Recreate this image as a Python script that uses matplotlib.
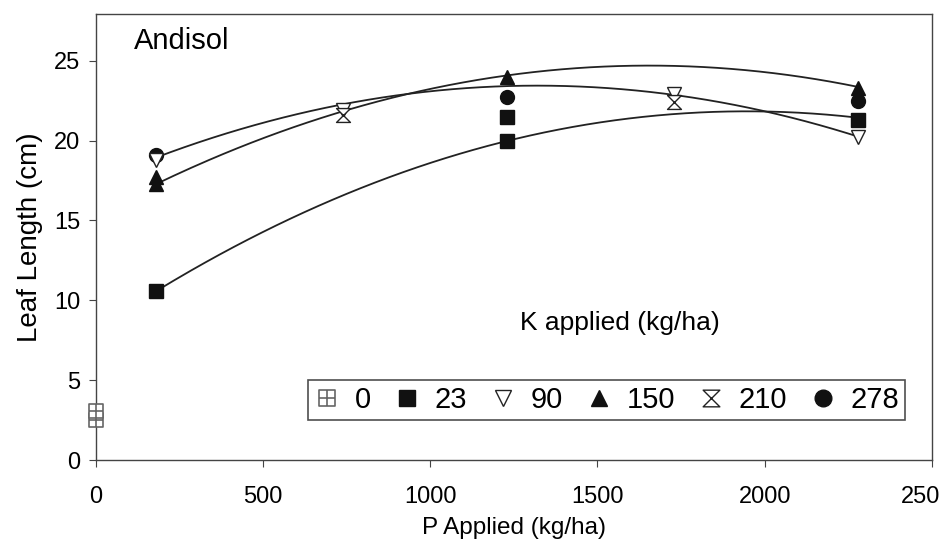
import matplotlib
matplotlib.use('Agg')
import matplotlib.pyplot as plt
from matplotlib.path import Path
import numpy as np

plt.rcParams['font.family'] = ['Liberation Sans', 'DejaVu Sans']

# marker data, one list pair per K level (kg/ha)
p_k0 = [0, 0]
len_k0 = [2.5, 3.1]
p_k23 = [180, 1230, 1230, 2280]
len_k23 = [10.6, 20.0, 21.5, 21.3]
p_k90 = [180, 740, 1730, 2280]
len_k90 = [18.8, 21.9, 22.9, 20.2]
p_k150 = [180, 180, 1230, 2280]
len_k150 = [17.3, 17.7, 24.0, 23.3]
p_k210 = [740, 1730]
len_k210 = [21.6, 22.4]
p_k278 = [180, 1230, 2280]
len_k278 = [19.1, 22.7, 22.5]

# points
curve_p = [180, 740, 1230, 1730, 2280]
curve_low = [10.6, 16.5, 20.0, 21.7, 21.4]
curve_mid = [17.3, 21.8, 24.0, 24.8, 23.3]
curve_top = [19.0, 22.1, 23.5, 22.9, 20.2]

x_ticks = [0, 500, 1000, 1500, 2000, 2500]
x_ticklabels = ['0', '500', '1000', '1500', '2000', '250']
y_ticks = [0, 5, 10, 15, 20, 25]

# custom markers: hourglass and grid square
hourglass = Path([(-1, 1), (1, 1), (-1, -1), (1, -1), (-1, 1)],
                 [Path.MOVETO, Path.LINETO, Path.LINETO, Path.LINETO, Path.CLOSEPOLY])
grid_sq = Path([(-1, -1), (1, -1), (1, 1), (-1, 1), (-1, -1),
                (-1, 0), (1, 0), (0, -1), (0, 1)],
               [Path.MOVETO, Path.LINETO, Path.LINETO, Path.LINETO, Path.CLOSEPOLY,
                Path.MOVETO, Path.LINETO, Path.MOVETO, Path.LINETO])

fig = plt.figure(figsize=(9.49, 5.49), dpi=100)
ax = fig.add_axes([0.101, 0.162, 0.881, 0.812])

# quadratic trend lines
xx = np.linspace(curve_p[0], curve_p[-1], 200)
for ys in (curve_low, curve_mid, curve_top):
    c = np.polyfit(curve_p, ys, 2)
    ax.plot(xx, np.polyval(c, xx), color='#222222', lw=1.3, zorder=2)

ms = 10
ax.plot(p_k0, len_k0, ls='none', marker=grid_sq, ms=ms, mfc='white', mec='#666666', mew=1.2,
        label='0', clip_on=False, zorder=3)
ax.plot(p_k23, len_k23, ls='none', marker='s', ms=ms, mfc='#111111', mec='#111111', label='23', zorder=3)
ax.plot(p_k90, len_k90, ls='none', marker='v', ms=ms, mfc='white', mec='#222222', mew=1.0, label='90', zorder=4)
ax.plot(p_k150, len_k150, ls='none', marker='^', ms=ms, mfc='#111111', mec='#111111', label='150', zorder=3)
ax.plot(p_k210, len_k210, ls='none', marker=hourglass, ms=ms, mfc='white', mec='#222222', mew=1.0,
        label='210', zorder=4)
ax.plot(p_k278, len_k278, ls='none', marker='o', ms=ms, mfc='#111111', mec='#111111', label='278', zorder=3)

ax.set_xlim(0, 2500)
ax.set_ylim(0, 27.9)
ax.set_xticks(x_ticks)
ax.set_xticklabels(x_ticklabels[:-1] + [''], fontsize=17)
# last label sits against the figure edge, as in the reference
ax.annotate(x_ticklabels[-1], xy=(x_ticks[-1], 0), xycoords=('data', 'axes fraction'),
            xytext=(6, -19), textcoords='offset points', ha='right', va='top', fontsize=17)
ax.set_yticks(y_ticks)
ax.set_yticklabels([str(v) for v in y_ticks], fontsize=17)
ax.tick_params(axis='both', direction='out', length=5, color='#444444')
ax.tick_params(axis='x', pad=14)
ax.tick_params(axis='y', pad=6)
for s in ax.spines.values():
    s.set_color('#444444')
    s.set_linewidth(1.0)

ax.set_xlabel('P Applied (kg/ha)', fontsize=17.5, labelpad=6)
ax.set_ylabel('Leaf Length (cm)', fontsize=20, labelpad=8)

ax.text(115, 26.2, 'Andisol', fontsize=21, ha='left', va='center')
ax.text(1567, 8.6, 'K applied (kg/ha)', fontsize=19, ha='center', va='center')

leg = ax.legend(ncol=6, loc='lower left', bbox_to_anchor=(0.254, 0.09, 0.714, 0.094), mode='expand',
                fontsize=21, frameon=True, fancybox=False, handlelength=0.9, handletextpad=0.5,
                columnspacing=0.4, borderpad=0.2, borderaxespad=0, markerscale=1.2)
leg.get_frame().set_edgecolor('#222222')
leg.get_frame().set_linewidth(1.2)

fig.savefig('out.png', dpi=100)
